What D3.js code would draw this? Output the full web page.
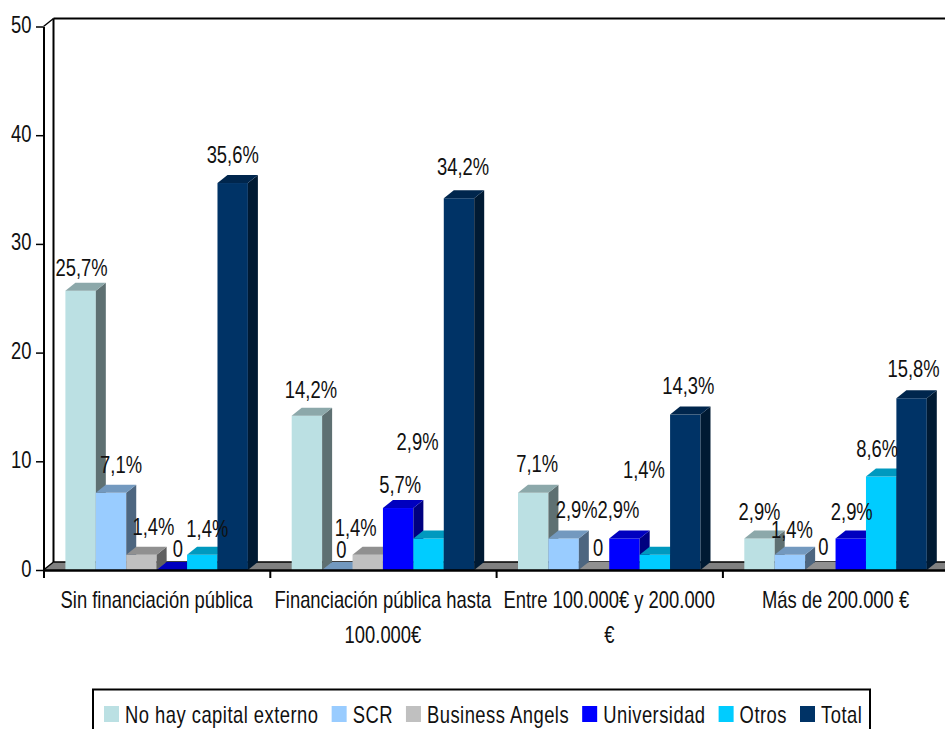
<!DOCTYPE html>
<html>
<head>
<meta charset="utf-8">
<script src="https://cdn.jsdelivr.net/npm/d3@7"></script>
<style>
  body { margin: 0; background: #fff; }
  svg { display: block; }
</style>
</head>
<body>
<svg id="chart" width="945" height="729"></svg>
<script>
// ---- data ----
const categories = [
  "Sin financiación pública",
  "Financiación pública hasta 100.000€",
  "Entre 100.000€ y 200.000 €",
  "Más de 200.000 €"
];
const seriesNames = ["No hay capital externo", "SCR", "Business Angels", "Universidad", "Otros", "Total"];
const noHayCapital   = [25.7, 14.2, 7.1, 2.9];
const scr            = [7.1, 0, 2.9, 1.4];
const businessAngels = [1.4, 1.4, 0, 0];
const universidad    = [0, 5.7, 2.9, 2.9];
const otros          = [1.4, 2.9, 1.4, 8.6];
const total          = [35.6, 34.2, 14.3, 15.8];
const yTicks = [0, 10, 20, 30, 40, 50];

const seriesValues = [noHayCapital, scr, businessAngels, universidad, otros, total];

// ---- styling ----
const frontColors = ["#BBE0E3", "#99CCFF", "#C0C0C0", "#0000FF", "#00CCFF", "#003366"];
const topColors   = ["#8CA8AA", "#7399BF", "#909090", "#0000BF", "#0099BF", "#00264D"];
const sideColors  = ["#5E7072", "#4D6680", "#606060", "#000080", "#006680", "#001A33"];
const FONT = "'Liberation Sans', Arial, sans-serif";
const FS = 23;        // font size
const SX = 0.80;      // horizontal compression (narrow face)
const DX = 10, DY = 8; // 3D depth offset

// per-label nudges [dx, dy] relative to bar centre / top, by category then series
const labelNudge = [
  [[1, 3], [10, -2], [12, -2], [6, 5], [5, 0], [0, -2]],
  [[4, 0], [4, 6], [-12, -1], [2, 3], [-11, -70], [4, -5]],
  [[4, -3], [13, -2], [4, 4], [-6, -2], [-11, -59], [3, -3]],
  [[0, 0], [2, 1], [3, 3], [1, 0], [-4, -2], [2, -3]]
];

const svg = d3.select("#chart");

const plotLeft = 43.5, step = 226.3;
const x = d3.scaleBand().domain(categories).range([plotLeft, plotLeft + step * categories.length]);
const xs = d3.scaleBand().domain(seriesNames).range([0, step]).paddingInner(0).paddingOuter(0.72);
const y = d3.scaleLinear().domain([0, 50]).range([570, 26.5]);
const y0 = y(0);
const rightEdge = plotLeft + step * categories.length;

function ntext(parent, px, py, str, anchor) {
  const g = parent.append("g").attr("transform", `translate(${px},${py}) scale(${SX},1)`);
  g.append("text")
    .attr("text-anchor", anchor || "middle")
    .attr("font-family", FONT)
    .attr("font-size", FS)
    .attr("fill", "#111")
    .text(str);
  return g;
}
function measure(str, extra) {
  const t = svg.append("text").attr("font-family", FONT).attr("font-size", FS)
    .attr("letter-spacing", extra || 0).text(str);
  const w = t.node().getComputedTextLength() * SX;
  t.remove();
  return w;
}

// ---- floor ----
svg.append("polygon")
  .attr("points", [[plotLeft, y0], [plotLeft + DX, y0 - DY], [rightEdge + DX, y0 - DY], [rightEdge, y0]].join(" "))
  .attr("fill", "#808080");

// ---- walls / frame ----
const frame = svg.append("g").attr("stroke", "#000").attr("fill", "none");
frame.append("line").attr("x1", plotLeft + DX).attr("y1", y(50) - DY).attr("x2", plotLeft + DX).attr("y2", y0 - DY).attr("stroke-width", 2);
frame.append("line").attr("x1", plotLeft + DX).attr("y1", y(50) - DY).attr("x2", rightEdge + DX).attr("y2", y(50) - DY).attr("stroke-width", 2);
frame.append("line").attr("x1", plotLeft).attr("y1", y(50)).attr("x2", plotLeft + DX).attr("y2", y(50) - DY).attr("stroke-width", 1.5);
frame.append("line").attr("x1", plotLeft).attr("y1", y0).attr("x2", plotLeft + DX).attr("y2", y0 - DY).attr("stroke-width", 1.5);
frame.append("line").attr("x1", plotLeft + DX).attr("y1", y0 - DY).attr("x2", rightEdge + DX).attr("y2", y0 - DY).attr("stroke-width", 1.5);

// ---- bars ----
const barsG = svg.append("g");
categories.forEach((cat, ci) => {
  seriesNames.forEach((ser, si) => {
    const v = seriesValues[si][ci];
    const xl = x(cat) + xs(ser), w = xs.bandwidth(), yt = y(v);
    if (v > 0) {
      barsG.append("rect").attr("x", xl).attr("y", yt).attr("width", w).attr("height", y0 - yt)
        .attr("fill", frontColors[si]);
      barsG.append("polygon")
        .attr("points", [[xl + w, yt], [xl + w + DX, yt - DY], [xl + w + DX, y0 - DY], [xl + w, y0]].join(" "))
        .attr("fill", sideColors[si]);
    }
    barsG.append("polygon")
      .attr("points", [[xl, yt], [xl + DX, yt - DY], [xl + w + DX, yt - DY], [xl + w, yt]].join(" "))
      .attr("fill", topColors[si]);
  });
});

// ---- axes ----
const yAxis = svg.append("g").attr("transform", `translate(${plotLeft},0)`)
  .call(d3.axisLeft(y).tickValues(yTicks).tickSize(7.5).tickSizeOuter(0).tickPadding(5.5).tickFormat(d3.format("d")));
yAxis.select(".domain").attr("stroke", "#000").attr("stroke-width", 2);
yAxis.selectAll(".tick line").attr("stroke", "#000").attr("stroke-width", 1.5);
yAxis.selectAll(".tick text")
  .attr("font-family", FONT).attr("font-size", FS).attr("fill", "#111")
  .attr("dy", null).attr("y", 6)
  .attr("transform", `scale(${SX},1)`)
  .attr("x", -12 / SX);

const xb = d3.scaleLinear().domain([0, categories.length]).range([plotLeft, rightEdge]);
const xAxis = svg.append("g").attr("transform", `translate(0,${y0})`)
  .call(d3.axisBottom(xb).tickValues(d3.range(categories.length + 1)).tickSize(8).tickSizeOuter(0).tickFormat(""));
xAxis.select(".domain").attr("stroke", "#000").attr("stroke-width", 2.5);
xAxis.selectAll(".tick line").attr("stroke", "#000").attr("stroke-width", 2);

// category labels, wrapped to the band width
const labelsG = svg.append("g");
categories.forEach(cat => {
  const words = cat.split(" ");
  const lines = [];
  let cur = "";
  words.forEach(wd => {
    const tryLine = cur ? cur + " " + wd : wd;
    if (cur && measure(tryLine) > 220) { lines.push(cur); cur = wd; }
    else cur = tryLine;
  });
  lines.push(cur);
  const cx = x(cat) + x.bandwidth() / 2;
  lines.forEach((ln, li) => ntext(labelsG, cx, 608 + li * 35, ln, "middle"));
});

// ---- value labels ----
const fmt = v => v === 0 ? "0" : d3.format(".1f")(v).replace(".", ",") + "%";
const valG = svg.append("g");
categories.forEach((cat, ci) => {
  seriesNames.forEach((ser, si) => {
    const v = seriesValues[si][ci];
    const cx = x(cat) + xs(ser) + xs.bandwidth() / 2;
    const [ndx, ndy] = labelNudge[ci][si];
    ntext(valG, cx + ndx, y(v) - 18 + ndy, fmt(v), "middle");
  });
});

// ---- legend ----
const legend = svg.append("g");
legend.append("rect").attr("x", 93).attr("y", 689.5).attr("width", 777).attr("height", 60)
  .attr("fill", "none").attr("stroke", "#000").attr("stroke-width", 2);
let lx = 104;
seriesNames.forEach((name, si) => {
  legend.append("rect").attr("x", lx).attr("y", 706).attr("width", 15).attr("height", 16)
    .attr("fill", frontColors[si]);
  const g = ntext(legend, lx + 21, 722.5, name, "start");
  g.select("text").attr("letter-spacing", 0.6);
  lx += 21 + measure(name, 0.6) + 13;
});
</script>
</body>
</html>
